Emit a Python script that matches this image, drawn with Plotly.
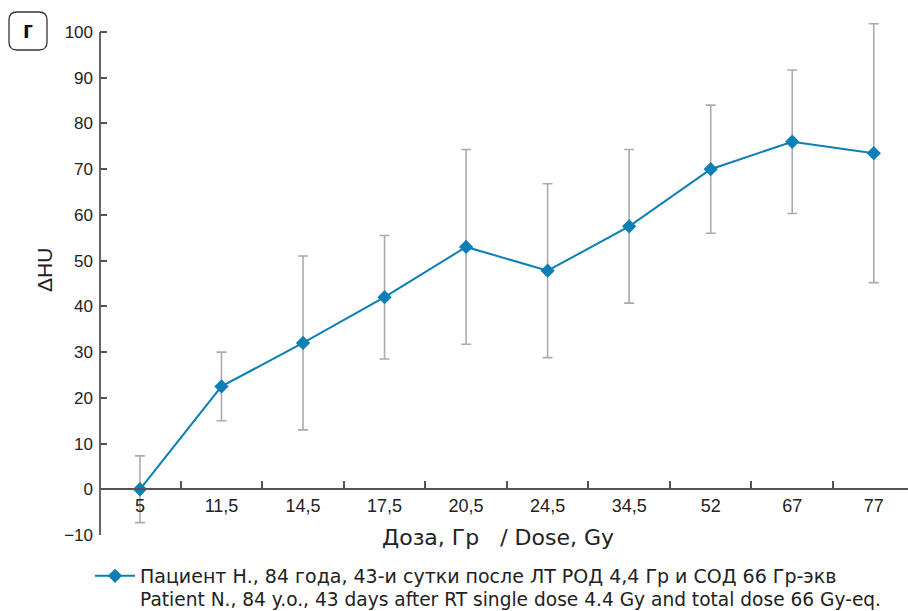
import plotly.graph_objects as go

doses = ["5", "11,5", "14,5", "17,5", "20,5", "24,5", "34,5", "52", "67", "77"]
delta_hu = [0, 22.5, 32, 42, 53, 47.8, 57.5, 70, 76, 73.5]
err = [7.3, 7.5, 19, 13.5, 21.3, 19, 16.8, 14, 15.7, 28.3]
y_ticks = [-10, 0, 10, 20, 30, 40, 50, 60, 70, 80, 90, 100]
y_ticktext = ["\u221210" if v < 0 else str(v) for v in y_ticks]
legend_line1 = "Пациент Н., 84 года, 43-и сутки после ЛТ РОД 4,4 Гр и СОД 66 Гр-экв"
legend_line2 = "Patient N., 84 y.o., 43 days after RT single dose 4.4 Gy and total dose 66 Gy-eq."

W, H = 908, 611
L, R, T, B = 100, 0, 18, 76
PW, PH = W - L - R, H - T - B
Y_MIN, Y_MAX = -10, 100
Y_TOP = Y_MAX + (32 - T) * (Y_MAX - Y_MIN) / (H - B - 32)

def px(x):
    return (x - L) / PW

def py(y):
    return (H - B - y) / PH

BLUE = "#0b7fb6"
DARK = "#333333"
AXIS = "#555555"
FONT = "Liberation Sans, Arial, sans-serif"
WFONT = "DejaVu Sans, Verdana, sans-serif"

fig = go.Figure()
fig.add_trace(go.Scatter(
    x=doses, y=delta_hu, mode="lines+markers", name=legend_line1,
    line=dict(color=BLUE, width=2),
    marker=dict(symbol="diamond", size=11, color=BLUE),
    error_y=dict(type="data", array=err, visible=True, color="#ababab", thickness=1.6, width=5),
    cliponaxis=False,
))

# y axis line from -10 to 100 only
fig.add_shape(type="line", xref="paper", yref="y", x0=0, x1=0, y0=Y_MIN, y1=Y_MAX,
              line=dict(color=AXIS, width=1.8))

# rounded box with panel letter
x0, x1, y0, y1, r = 9, 47, 12, 50, 8
path = (f"M {px(x0+r)},{py(y0)} L {px(x1-r)},{py(y0)} "
        f"Q {px(x1)},{py(y0)} {px(x1)},{py(y0+r)} L {px(x1)},{py(y1-r)} "
        f"Q {px(x1)},{py(y1)} {px(x1-r)},{py(y1)} L {px(x0+r)},{py(y1)} "
        f"Q {px(x0)},{py(y1)} {px(x0)},{py(y1-r)} L {px(x0)},{py(y0+r)} "
        f"Q {px(x0)},{py(y0)} {px(x0+r)},{py(y0)} Z")
fig.add_shape(type="path", path=path, xref="paper", yref="paper",
              line=dict(color=DARK, width=1.3))
fig.add_annotation(x=px(28), y=py(29), xref="paper", yref="paper", text="<b>г</b>",
                   xanchor="center", yanchor="middle",
                   showarrow=False, font=dict(size=24, color="#111", family=FONT))

fig.add_annotation(x=px(498), y=py(537), xref="paper", yref="paper",
                   text="Доза, Гр   / Dose, Gy", showarrow=False,
                   xanchor="center", yanchor="middle",
                   font=dict(size=22, color="#222", family=WFONT))
fig.add_annotation(x=px(44), y=py(270), xref="paper", yref="paper",
                   text="ΔHU", textangle=-90, showarrow=False,
                   xanchor="center", yanchor="middle",
                   font=dict(size=21, color="#222", family=FONT))
fig.add_annotation(x=px(138), y=py(599), xref="paper", yref="paper",
                   text=legend_line2, showarrow=False, xanchor="left", yanchor="middle",
                   font=dict(size=18.6, color="#222", family=WFONT))

fig.update_layout(
    width=W, height=H,
    margin=dict(l=L, r=R, t=T, b=B, autoexpand=False),
    paper_bgcolor="white", plot_bgcolor="white",
    font=dict(family=FONT, size=17, color="#222"),
    showlegend=True,
    legend=dict(x=90 / W, y=1 - 557 / H, xref="container", yref="container",
                xanchor="left", yanchor="top", valign="top",
                font=dict(size=19, family=WFONT, color="#222"),
                itemwidth=40, tracegroupgap=0),
    xaxis=dict(type="category", range=[-0.49, 9.42], anchor="free",
               position=(0 - Y_MIN) / (Y_TOP - Y_MIN),
               showline=True, linecolor=AXIS, linewidth=1.8,
               ticks="inside", ticklen=7, tickwidth=1.5, tickcolor=AXIS,
               tickson="boundaries", showgrid=False, zeroline=False,
               tickfont=dict(size=18, color="#222")),
    yaxis=dict(range=[Y_MIN, Y_TOP], tickvals=y_ticks, ticktext=y_ticktext,
               showline=False,
               ticks="inside", ticklen=7, tickwidth=1.5, tickcolor=AXIS,
               showgrid=False, zeroline=False, ticklabelstandoff=6,
               tickfont=dict(size=17, color="#222")),
)

fig.write_html("out.html")
